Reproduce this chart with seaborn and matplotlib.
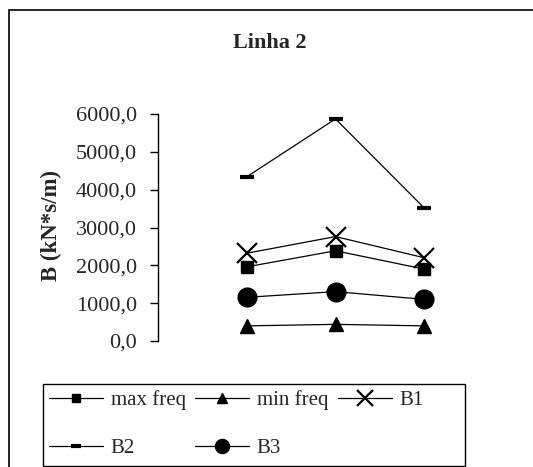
import matplotlib
matplotlib.use("Agg")
import matplotlib.pyplot as plt
import seaborn as sns
import pandas as pd
from matplotlib.patches import Rectangle
from matplotlib.ticker import FuncFormatter

sns.set_theme(style="white")
plt.rcParams['font.family'] = ['Liberation Serif', 'DejaVu Serif']

positions = [1, 2, 3]
series_names = ["max freq", "min freq", "B1", "B2", "B3"]
max_freq = [1960, 2385, 1900]
min_freq = [400, 440, 400]
b1 = [2320, 2760, 2200]
b2 = [4340, 5870, 3515]
b3 = [1155, 1305, 1100]
yticks = [0, 1000, 2000, 3000, 4000, 5000, 6000]

values = [max_freq, min_freq, b1, b2, b3]
markers = ["s", "^", "x", "_", "o"]
msizes = [8.5, 10, 15, 10, 13.5]
mews = [1, 1, 1.6, 3, 1]

fig = plt.figure(figsize=(5.33, 4.67), dpi=100)
ax = fig.add_axes([158/533, 1-341/467, (513-158)/533, (341-114)/467])

for name, vals, m, ms, mew in zip(series_names, values, markers, msizes, mews):
    df = pd.DataFrame({"x": positions, "y": vals})
    sns.lineplot(data=df, x="x", y="y", ax=ax, color="black", linewidth=0.9,
                 marker=m, markersize=ms, markeredgewidth=mew,
                 markeredgecolor="black", markerfacecolor="black", label=name, legend=False)

ax.set_xlim(0, 4)
ax.set_ylim(0, 6000)
ax.set_yticks(yticks)
ax.yaxis.set_major_formatter(FuncFormatter(lambda v, p: f"{v:.1f}".replace(".", ",")))
ax.set_xticks([])
ax.set_xlabel("")
ax.set_ylabel("B (kN*s/m)", fontsize=16.5, fontweight="bold")
ax.yaxis.set_label_coords((62-158)/355, 0.51)
for s in ["top", "right", "bottom"]:
    ax.spines[s].set_visible(False)
ax.spines["left"].set_color("black")
ax.spines["left"].set_linewidth(1)
ax.tick_params(axis="y", direction="out", length=6, width=1, color="black",
               labelsize=16, left=True, pad=9)
ax.patch.set_alpha(0)

fig.text(270/533, 1-43/467, "Linha 2", ha="center", va="center", fontsize=16, fontweight="bold")

# outer chart border (cropped at right/bottom)
fig.patches.append(Rectangle((9/533, -0.1), 1.2, 1-10/467+0.1, transform=fig.transFigure,
                             fill=False, edgecolor="black", linewidth=1.2))
# legend frame
fig.patches.append(Rectangle((43/533, 1-466/467), (465-43)/533, (466-384)/467,
                             transform=fig.transFigure, fill=False, edgecolor="black", linewidth=1))

handles, labels = ax.get_legend_handles_labels()
order = [0, 3, 1, 4, 2]
handles = [handles[i] for i in order]
labels = [labels[i] for i in order]
leg = fig.legend(handles, labels, loc="upper left", bbox_to_anchor=(43/533, 1-384/467),
                 ncol=3, fontsize=15, frameon=False,
                 handlelength=2.6, handletextpad=0.35, columnspacing=0.45, borderaxespad=0,
                 borderpad=0.3, labelspacing=1.35, markerscale=0.75)

fig.savefig("out.png", dpi=100)
